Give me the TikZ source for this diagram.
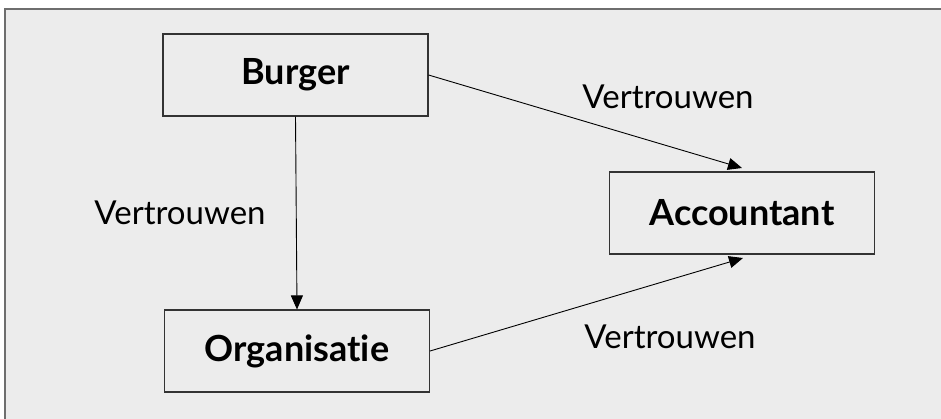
\documentclass[tikz,border=0pt]{standalone}
\usepackage{fontspec}
\setmainfont{Lato}[Ligatures=NoCommon]
\usetikzlibrary{arrows.meta}
\definecolor{bgfill}{HTML}{ECECEC}
\definecolor{framec}{HTML}{6E6E6E}
\begin{document}
\begin{tikzpicture}[x=1pt,y=-1pt,
  box/.style={draw=black!80,line width=1.1pt,fill=bgfill,minimum width=265pt,minimum height=82pt,inner sep=0pt,font=\fontsize{36}{42}\selectfont\bfseries},
  lbl/.style={font=\fontsize{33}{38}\selectfont,inner sep=0pt},
  conn/.style={draw=black,line width=0.9pt,-{Triangle[length=14pt,width=12pt]}}]
\useasboundingbox (0,0) rectangle (941,419);
\fill[bgfill] (5,9) rectangle (941,419);
\draw[framec,line width=1.5pt] (5,419) -- (5,9) -- (941,9);
\node[box] (burger) at (295.5,75) {Burger};
\node[box] (org) at (297,351) {Organisatie};
\node[box] (acc) at (742,213) {Accountant};
\coordinate (t1) at (742,168);
\coordinate (t2) at (743,258);
\draw[conn] (burger.south) -- (org.north);
\draw[conn] (burger.east) -- (t1);
\draw[conn] (org.east) -- (t2);
\node[lbl] (l1) at (668,97) {Vertrouwen};
\node[lbl] (l2) at (180,213) {Vertrouwen};
\node[lbl] (l3) at (670,337) {Vertrouwen};
\end{tikzpicture}
\end{document}
